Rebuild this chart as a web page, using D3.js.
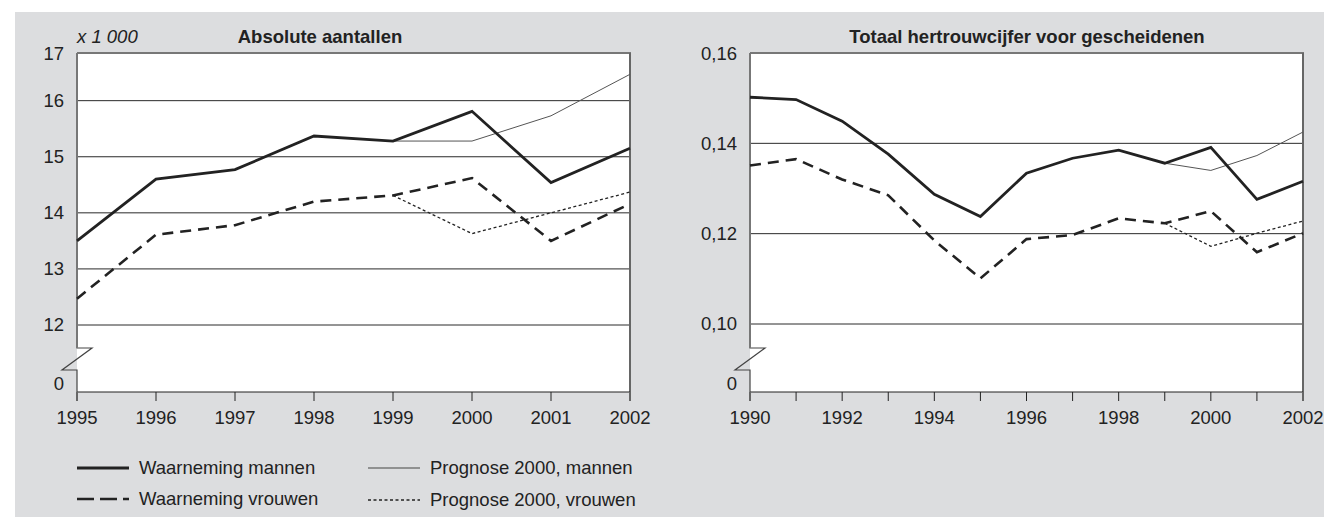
<!DOCTYPE html>
<html>
<head>
<meta charset="utf-8">
<script src="https://cdn.jsdelivr.net/npm/d3@7"></script>
<style>
  body { margin: 0; background: #fff; }
  svg { display: block; font-family: "Liberation Sans", Arial, sans-serif; }
</style>
</head>
<body>
<svg id="chart"></svg>
<script>
var width = 1324, height = 517;

// left panel: absolute numbers (x 1 000)
var yearsA = [1995, 1996, 1997, 1998, 1999, 2000, 2001, 2002];
var obsMenA = [13.50, 14.60, 14.77, 15.37, 15.28, 15.81, 14.54, 15.15];
var obsWomenA = [12.47, 13.61, 13.78, 14.20, 14.31, 14.62, 13.50, 14.16];
var progYearsA = [1999, 2000, 2001, 2002];
var progMenA = [15.28, 15.28, 15.73, 16.47];
var progWomenA = [14.31, 13.63, 14.00, 14.37];
var yTicksA = [12, 13, 14, 15, 16, 17];

// right panel: total remarriage rate
var yearsB = [1990, 1991, 1992, 1993, 1994, 1995, 1996, 1997, 1998, 1999, 2000, 2001, 2002];
var obsMenB = [0.1502, 0.1497, 0.1449, 0.1376, 0.1287, 0.1238, 0.1334, 0.1367, 0.1385, 0.1356, 0.1391, 0.1276, 0.1316];
var obsWomenB = [0.1351, 0.1365, 0.1320, 0.1285, 0.1185, 0.1101, 0.1188, 0.1197, 0.1234, 0.1223, 0.1250, 0.1159, 0.1201];
var progYearsB = [1999, 2000, 2001, 2002];
var progMenB = [0.1356, 0.1340, 0.1373, 0.1425];
var progWomenB = [0.1223, 0.1172, 0.1201, 0.1228];
var yTicksB = [0.10, 0.12, 0.14, 0.16];
var xLabelsB = [1990, 1992, 1994, 1996, 1998, 2000, 2002];

var legendItems = [
  {label: "Waarneming mannen", style: "obsMen"},
  {label: "Waarneming vrouwen", style: "obsWomen"},
  {label: "Prognose 2000, mannen", style: "progMen"},
  {label: "Prognose 2000, vrouwen", style: "progWomen"}
];

var styles = {
  obsMen:   {stroke: "#222", width: 2.8, dash: null},
  obsWomen: {stroke: "#222", width: 2.6, dash: "11,7"},
  progMen:  {stroke: "#555", width: 1, dash: null},
  progWomen:{stroke: "#222", width: 1.3, dash: "3,2.5"}
};

var FS = 18.5;

var svg = d3.select("#chart").attr("width", width).attr("height", height);

svg.append("rect").attr("x", 15).attr("y", 12)
  .attr("width", width - 15).attr("height", height - 12).attr("fill", "#dcdddf");

var fmtComma = function(v) { return d3.format(".2f")(v).replace(".", ","); };

function panel(opt) {
  var g = svg.append("g");
  var left = opt.left, right = opt.right, top = 53, gridBottom = opt.gridBottom, axisY = 392;

  var x = d3.scaleLinear().domain(opt.xDomain).range([left, right]);
  var y = d3.scaleLinear().domain(opt.yDomain).range([gridBottom, top]);

  // plot area
  g.append("rect").attr("x", left).attr("y", top)
    .attr("width", right - left).attr("height", axisY - top).attr("fill", "#fff");

  // gridlines
  g.selectAll(".grid").data(opt.yTicks.filter(function(d) { return y(d) > top + 2; }))
    .enter().append("line")
    .attr("x1", left).attr("x2", right)
    .attr("y1", function(d) { return y(d); }).attr("y2", function(d) { return y(d); })
    .attr("stroke", "#2a2a2a").attr("stroke-width", 1);

  // top border and right border
  g.append("line").attr("x1", left).attr("x2", right + 1).attr("y1", top).attr("y2", top)
    .attr("stroke", "#777").attr("stroke-width", 2);
  g.append("line").attr("x1", right).attr("x2", right).attr("y1", top).attr("y2", axisY)
    .attr("stroke", "#666").attr("stroke-width", 2);

  // x axis line at 0
  g.append("line").attr("x1", left).attr("x2", right).attr("y1", axisY).attr("y2", axisY)
    .attr("stroke", "#222").attr("stroke-width", 1.2);

  // broken y axis
  var bk = d3.path();
  bk.moveTo(left, top);
  bk.lineTo(left, 348);
  bk.lineTo(left + 15, 348);
  bk.lineTo(left - 15, 370);
  bk.lineTo(left, 370);
  bk.lineTo(left, axisY + 9);
  g.append("path").attr("d", bk.toString()).attr("fill", "none")
    .attr("stroke", "#444").attr("stroke-width", 1.2);
  g.append("line").attr("x1", left).attr("x2", left).attr("y1", top).attr("y2", 348)
    .attr("stroke", "#777").attr("stroke-width", 2);

  // x ticks
  g.selectAll(".xt").data(opt.xTicks).enter().append("line")
    .attr("x1", function(d) { return x(d); }).attr("x2", function(d) { return x(d); })
    .attr("y1", axisY).attr("y2", axisY + 9)
    .attr("stroke", function(d, i) { return (i === 0 || i === opt.xTicks.length - 1) ? "#666" : "#222"; })
    .attr("stroke-width", function(d, i) { return (i === 0 || i === opt.xTicks.length - 1) ? 2 : 1; });

  g.selectAll(".xl").data(opt.xLabels).enter().append("text")
    .attr("x", function(d) { return x(d); }).attr("y", axisY + 32)
    .attr("text-anchor", "middle").attr("font-size", FS).attr("fill", "#222")
    .text(function(d) { return d; });

  // y labels
  g.selectAll(".yl").data(opt.yTicks).enter().append("text")
    .attr("x", left - 13).attr("y", function(d) { return Math.max(y(d), top + 1); })
    .attr("dy", "0.35em").attr("text-anchor", "end").attr("font-size", FS).attr("fill", "#222")
    .text(opt.yFormat);
  g.append("text").attr("x", left - 13).attr("y", axisY).attr("dy", "-0.12em")
    .attr("text-anchor", "end").attr("font-size", FS).attr("fill", "#222").text("0");

  // title
  g.append("text").attr("x", opt.titleX).attr("y", 43).attr("text-anchor", "middle")
    .attr("font-size", FS).attr("font-weight", "bold").attr("fill", "#222").text(opt.title);
  if (opt.unit) {
    g.append("text").attr("x", left).attr("y", 43).attr("font-size", FS)
      .attr("font-style", "italic").attr("fill", "#222").text(opt.unit);
  }

  var line = d3.line().x(function(d) { return x(d[0]); }).y(function(d) { return y(d[1]); });

  function draw(xs, ys, key) {
    var s = styles[key];
    g.append("path").datum(d3.zip(xs, ys)).attr("d", line)
      .attr("fill", "none").attr("stroke", s.stroke).attr("stroke-width", s.width)
      .attr("stroke-dasharray", s.dash).attr("stroke-linejoin", "miter");
  }
  draw(opt.progYears, opt.progMen, "progMen");
  draw(opt.progYears, opt.progWomen, "progWomen");
  draw(opt.years, opt.obsWomen, "obsWomen");
  draw(opt.years, opt.obsMen, "obsMen");
}

panel({
  left: 77, right: 630, gridBottom: 325,
  xDomain: [1995, 2002], yDomain: [12, 16.85],
  yTicks: yTicksA, yFormat: function(d) { return d; },
  xTicks: yearsA, xLabels: yearsA,
  title: "Absolute aantallen", titleX: 320, unit: "x 1 000",
  years: yearsA, obsMen: obsMenA, obsWomen: obsWomenA,
  progYears: progYearsA, progMen: progMenA, progWomen: progWomenA
});

panel({
  left: 750, right: 1303, gridBottom: 324,
  xDomain: [1990, 2002], yDomain: [0.10, 0.16],
  yTicks: yTicksB, yFormat: fmtComma,
  xTicks: yearsB, xLabels: xLabelsB,
  title: "Totaal hertrouwcijfer voor gescheidenen", titleX: 1027, unit: null,
  years: yearsB, obsMen: obsMenB, obsWomen: obsWomenB,
  progYears: progYearsB, progMen: progMenB, progWomen: progWomenB
});

// legend
var leg = svg.append("g");
var legPos = [[77, 468], [77, 499], [368, 468], [368, 500]];
legendItems.forEach(function(item, i) {
  var s = styles[item.style];
  var p = legPos[i];
  leg.append("line").attr("x1", p[0]).attr("x2", p[0] + 52).attr("y1", p[1]).attr("y2", p[1])
    .attr("stroke", item.style === "progMen" ? "#777" : s.stroke)
    .attr("stroke-width", item.style === "progMen" ? 1.3 : s.width)
    .attr("stroke-dasharray", item.style === "obsWomen" ? "17,6" : s.dash);
  leg.append("text").attr("x", p[0] + 62).attr("y", p[1]).attr("dy", "0.35em")
    .attr("font-size", FS).attr("fill", "#222").text(item.label);
});
</script>
</body>
</html>
